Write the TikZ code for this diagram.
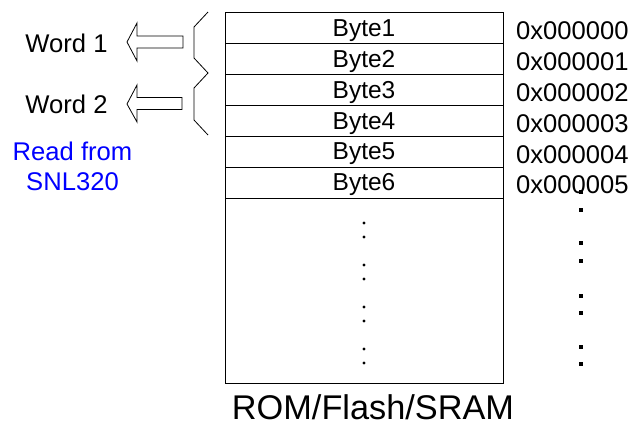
\documentclass[tikz,border=0pt]{standalone}
\usepackage{fontspec}
\setmainfont{Liberation Sans}
\definecolor{readblue}{RGB}{0,0,255}
\begin{document}
\begin{tikzpicture}[x=1pt,y=-1pt,
  txt/.style={font=\fontsize{24.5}{28}\selectfont, inner sep=0pt, anchor=base},
  bigtxt/.style={font=\fontsize{25.6}{29}\selectfont, inner sep=0pt, anchor=base},
  row/.style={draw, line width=0.8pt, minimum width=278pt, minimum height=31pt, inner sep=0pt, anchor=north west},
  blockarrow/.style={draw, line width=0.8pt, line join=miter},
  bracestyle/.style={draw, line width=0.8pt},
  rdot/.style={fill, circle, inner sep=0pt, minimum size=3.4pt},
  sdot/.style={fill, rectangle, inner sep=0pt, minimum size=4pt}]
\useasboundingbox (0,0) rectangle (633,426);
% memory rows
\node[row] (r1) at (225,12) {};
\node[row] (r2) at (225,42.5) {};
\node[row] (r3) at (225,73.5) {};
\node[row] (r4) at (225,104.5) {};
\node[row] (r5) at (225,135.5) {};
\node[row] (r6) at (225,166.5) {};
\node[draw, line width=0.8pt, minimum width=278pt, minimum height=185pt, inner sep=0pt, anchor=north west] (rest) at (225,197.5) {};
% byte labels
\node[txt] (b1) at (364,36.5) {Byte1};
\node[txt] (b2) at (364,67) {Byte2};
\node[txt] (b3) at (364,98) {Byte3};
\node[txt] (b4) at (364,129) {Byte4};
\node[txt] (b5) at (364,159.5) {Byte5};
\node[txt] (b6) at (364,190) {Byte6};
% addresses
\node[bigtxt, anchor=base west] (a1) at (516,39) {0x000000};
\node[bigtxt, anchor=base west] (a2) at (516,70.5) {0x000001};
\node[bigtxt, anchor=base west] (a3) at (516,101.5) {0x000002};
\node[bigtxt, anchor=base west] (a4) at (516,132) {0x000003};
\node[bigtxt, anchor=base west] (a5) at (516,163) {0x000004};
\node[bigtxt, anchor=base west] (a6) at (516,193.5) {0x000005};
% dots inside box
\foreach \y [count=\i] in {223,237,265,279,307,321,349,363}
  \node[rdot] (d\i) at (364,\y) {};
% square dots on the right
\foreach \y [count=\i] in {192,210,243,261,296,313,347,364}
  \node[sdot] (s\i) at (581,\y) {};
% caption
\node[font=\fontsize{34.3}{38}\selectfont, inner sep=0pt, text depth=0pt, anchor=base] (cap) at (373,419.5) {ROM/Flash/SRAM};
% words
\node[bigtxt] (w1) at (66.5,52) {Word 1};
\node[bigtxt] (w2) at (66.5,113) {Word 2};
\node[bigtxt, text=readblue] (rf) at (72.5,160) {Read from};
\node[bigtxt, text=readblue] (snl) at (72.5,190) {SNL320};
% block arrows
\draw[blockarrow] (127,42) -- (137,23) -- (137,36) -- (183,36) -- (183,48) -- (137,48) -- (137,61) -- cycle;
\draw[blockarrow] (127,104) -- (137,85) -- (137,97.5) -- (182,97.5) -- (182,109.5) -- (137,109.5) -- (137,122) -- cycle;
% brace
\draw[bracestyle] (208,12) -- (194,27) -- (194,58) -- (208,73) -- (194,88) -- (194,120) -- (208,135);
\end{tikzpicture}
\end{document}
